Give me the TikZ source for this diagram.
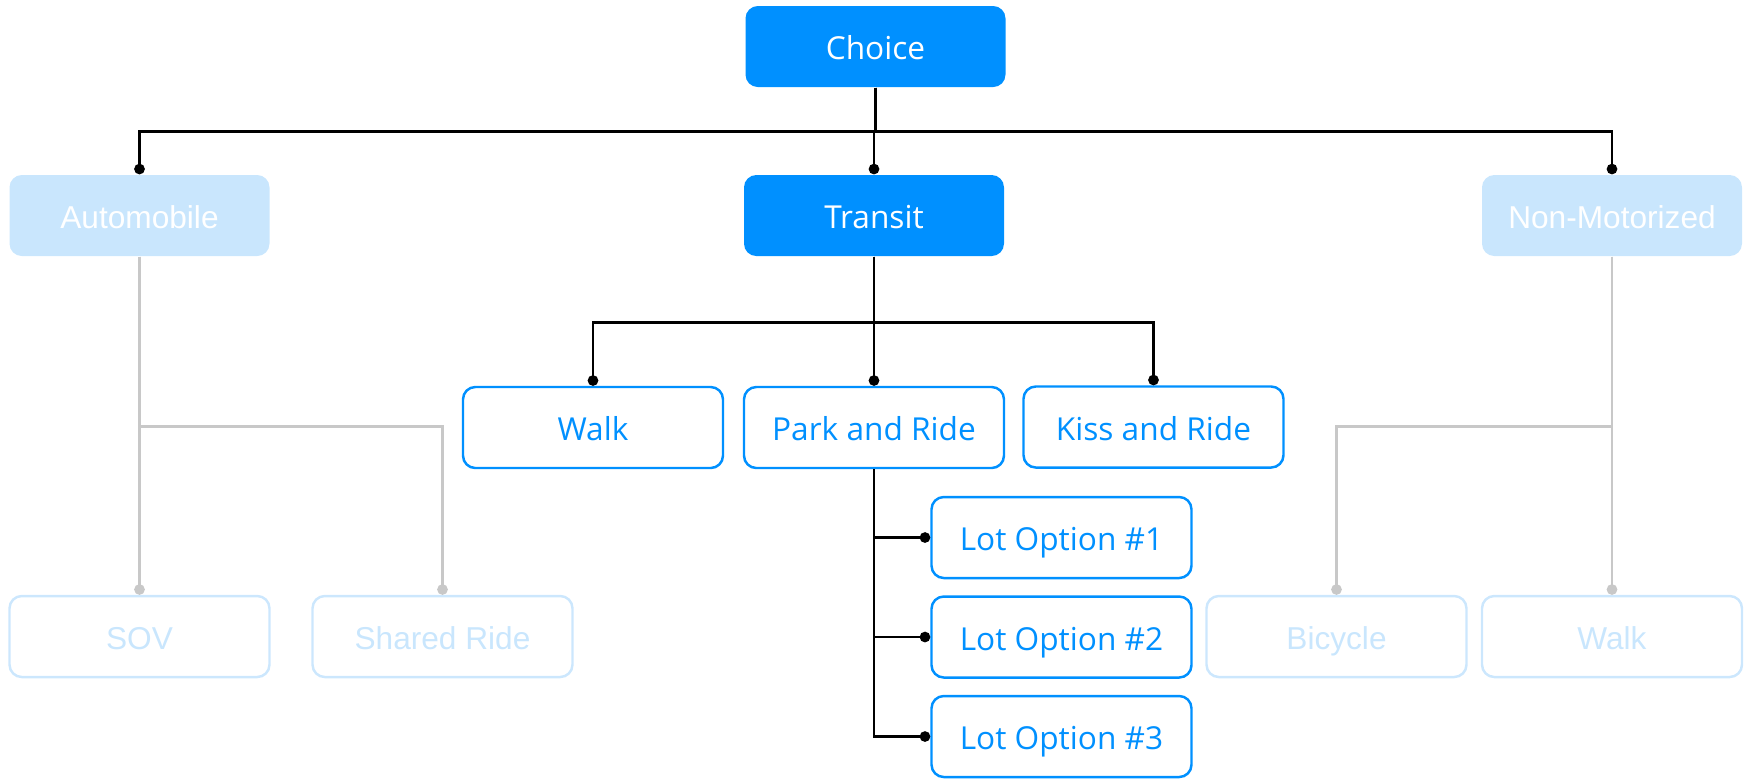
\documentclass[tikz,border=0pt]{standalone}
\usepackage{fontspec}
\setmainfont{Open Sans}
\newfontfamily\palefont{Liberation Sans}
\usetikzlibrary{arrows.meta}
\definecolor{darkblue}{HTML}{0090FF}
\definecolor{paleblue}{HTML}{C9E6FD}
\definecolor{paleline}{HTML}{CCE7FD}
\definecolor{greyline}{HTML}{C8C8C8}

\begin{document}
\begin{tikzpicture}[
	box/.style={rounded corners=3.5pt, minimum width=2.6cm, minimum height=0.81cm, inner sep=0pt, text height=1.62ex, text depth=0.2ex, font=\fontsize{9}{10}\selectfont},
	solidbox/.style={box, fill=darkblue, text=white},
	openbox/.style={box, draw=darkblue, line width=0.7pt, text=darkblue},
	palebox/.style={box, fill=paleblue, text=white, font=\palefont\fontsize{9}{10}\selectfont},
	ghostbox/.style={box, draw=paleline, line width=0.7pt, text=paleblue, font=\palefont\fontsize{9}{10}\selectfont},
	link/.style={line width=0.7pt, -{Circle[length=3pt]}},
	greylink/.style={link, greyline}]
		\useasboundingbox (0,0) rectangle (17.48,-7.78);
		% top level
		\node[solidbox] (choice) at (8.755,-0.465) {Choice};
		\node[palebox] (auto) at (1.395,-2.155) {Automobile};
		\node[solidbox] (transit) at (8.74,-2.155) {Transit};
		\node[palebox] (nonmot) at (16.12,-2.155) {Non-Motorized};
		% transit modes
		\node[openbox] (walk) at (5.93,-4.275) {Walk};
		\node[openbox] (park) at (8.74,-4.275) {Park and Ride};
		\node[openbox] (kiss) at (11.535,-4.27) {Kiss and Ride};
		\node[openbox] (lot1) at (10.615,-5.375) {Lot Option \#1};
		\node[openbox] (lot2) at (10.615,-6.37) {Lot Option \#2};
		\node[openbox] (lot3) at (10.615,-7.365) {Lot Option \#3};
		% faded modes
		\node[ghostbox] (sov) at (1.395,-6.365) {SOV};
		\node[ghostbox] (shared) at (4.425,-6.365) {Shared Ride};
		\node[ghostbox] (bicycle) at (13.365,-6.365) {Bicycle};
		\node[ghostbox] (nmwalk) at (16.12,-6.365) {Walk};
		% links
		\draw[link] (choice.south) -- ++(0,-0.44) -| (auto.north);
		\draw[link] (choice.south) -- ++(0,-0.44) -| (transit.north);
		\draw[link] (choice.south) -- ++(0,-0.44) -| (nonmot.north);
		\draw[link] (transit.south) -- ++(0,-0.66) -| (walk.north);
		\draw[link] (transit.south) -- (park.north);
		\draw[link] (transit.south) -- ++(0,-0.66) -| (kiss.north);
		\draw[link] (park.south) |- (lot1.west);
		\draw[link] (park.south) |- (lot2.west);
		\draw[link] (park.south) |- (lot3.west);
		\draw[greylink] (auto.south) -- (sov.north);
		\draw[greylink] (auto.south) -- ++(0,-1.7) -| (shared.north);
		\draw[greylink] (nonmot.south) -- ++(0,-1.7) -| (bicycle.north);
		\draw[greylink] (nonmot.south) -- (nmwalk.north);
\end{tikzpicture}
\end{document}
